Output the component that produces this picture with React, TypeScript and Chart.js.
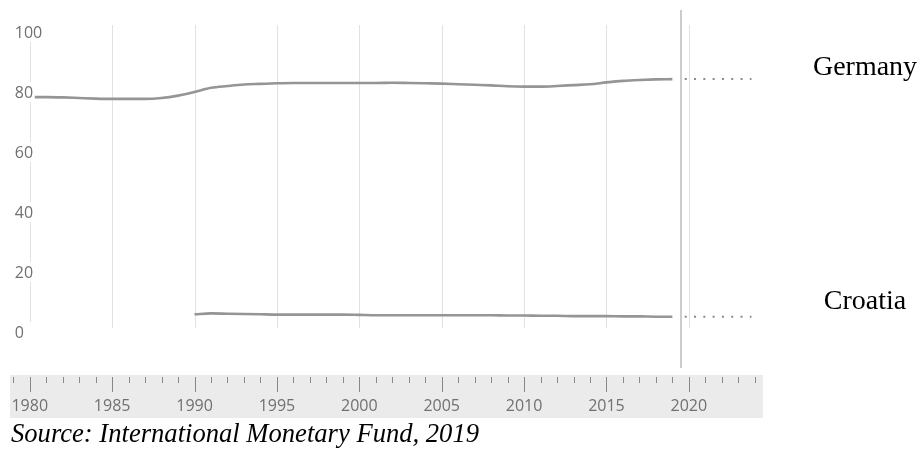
import React, { useEffect, useRef } from 'react';
import { Chart, registerables } from 'chart.js';

Chart.register(...registerables);

const YEARS_GERMANY = [
  1980, 1981, 1982, 1983, 1984, 1985, 1986, 1987, 1988, 1989,
  1990, 1991, 1992, 1993, 1994, 1995, 1996, 1997, 1998, 1999,
  2000, 2001, 2002, 2003, 2004, 2005, 2006, 2007, 2008, 2009,
  2010, 2011, 2012, 2013, 2014, 2015, 2016, 2017, 2018, 2019,
];
const GERMANY = [
  78.3, 78.3, 78.2, 78.0, 77.8, 77.7, 77.7, 77.7, 78.0, 78.8,
  80.0, 81.4, 82.0, 82.5, 82.7, 82.9, 83.0, 83.0, 83.0, 83.0,
  83.0, 83.0, 83.1, 83.0, 82.9, 82.8, 82.6, 82.4, 82.2, 81.9,
  81.8, 81.8, 82.0, 82.3, 82.6, 83.2, 83.7, 84.0, 84.2, 84.3,
];
const YEARS_CROATIA = [
  1990, 1991, 1992, 1993, 1994, 1995, 1996, 1997, 1998, 1999,
  2000, 2001, 2002, 2003, 2004, 2005, 2006, 2007, 2008, 2009,
  2010, 2011, 2012, 2013, 2014, 2015, 2016, 2017, 2018, 2019,
];
const CROATIA = [
  5.9, 6.2, 6.1, 6.0, 5.9, 5.8, 5.8, 5.8, 5.8, 5.8,
  5.7, 5.6, 5.6, 5.6, 5.6, 5.6, 5.6, 5.6, 5.6, 5.5,
  5.5, 5.4, 5.4, 5.3, 5.3, 5.3, 5.2, 5.2, 5.1, 5.1,
];
const Y_TICKS = [0, 20, 40, 60, 80, 100];
const X_MIN = 1978.8;
const X_MAX = 2024.5;
const Y_MIN = -14.333;
const Y_MAX = 102.333;
const LABEL_EVERY = 5;
const PROJECTION_YEARS = [2019.75, 2023.8];
const CURRENT_YEAR = 2019.5;
const SERIES_NAMES = ['Germany', 'Croatia'];
const SOURCE_TEXT = 'Source: International Monetary Fund, 2019';

const LINE_COLOR = '#959595';
const LABEL_COLOR = '#707070';

const decorPlugin = {
  id: 'decor',
  beforeDraw(chart: any) {
    const { ctx } = chart;
    const x = chart.scales.x;
    ctx.save();
    ctx.fillStyle = '#ebebeb';
    ctx.fillRect(x.left, x.top, x.right - x.left, x.bottom - x.top + 1);
    ctx.restore();
  },
  beforeDatasetsDraw(chart: any) {
    const { ctx, chartArea } = chart;
    const x = chart.scales.x;
    const y = chart.scales.y;
    ctx.save();
    // tick marks
    ctx.strokeStyle = '#888888';
    ctx.lineWidth = 1;
    for (let yr = Math.ceil(x.min); yr <= x.max; yr++) {
      const px = Math.round(x.getPixelForValue(yr)) + 0.5;
      const major = yr % LABEL_EVERY === 0;
      ctx.beginPath();
      ctx.moveTo(px, x.top + 2);
      ctx.lineTo(px, x.top + (major ? 17 : 8));
      ctx.stroke();
    }
    // vertical grid lines
    const gridBottom = y.getPixelForValue(0) - 4;
    ctx.strokeStyle = '#e1e1e1';
    for (let yr = Math.ceil(x.min / LABEL_EVERY) * LABEL_EVERY; yr <= x.max; yr += LABEL_EVERY) {
      const px = Math.round(x.getPixelForValue(yr)) + 0.5;
      ctx.beginPath();
      ctx.moveTo(px, chartArea.top);
      ctx.lineTo(px, gridBottom);
      ctx.stroke();
    }
    ctx.restore();
  },
  afterDatasetsDraw(chart: any) {
    const { ctx, chartArea } = chart;
    const x = chart.scales.x;
    const y = chart.scales.y;
    ctx.save();
    // y tick labels with white backdrop
    const x0 = x.getPixelForValue(1980);
    ctx.font = '16px "Open Sans"';
    ctx.textAlign = 'left';
    ctx.textBaseline = 'middle';
    for (const v of Y_TICKS) {
      const py = y.getPixelForValue(v);
      ctx.fillStyle = '#ffffff';
      ctx.fillRect(x0 - 18, py - 10, 23, 20);
      ctx.fillStyle = LABEL_COLOR;
      ctx.fillText(String(v), x0 - 15, py + 1);
    }
    // current year line
    const cx = Math.round(x.getPixelForValue(CURRENT_YEAR));
    ctx.strokeStyle = '#cccccc';
    ctx.lineWidth = 2;
    ctx.beginPath();
    ctx.moveTo(cx, chartArea.top - 15);
    ctx.lineTo(cx, x.top - 7);
    ctx.stroke();
    // series names
    ctx.fillStyle = '#000000';
    ctx.font = '28px "Liberation Serif"';
    ctx.textAlign = 'center';
    ctx.textBaseline = 'alphabetic';
    const lastG = GERMANY[GERMANY.length - 1];
    const lastC = CROATIA[CROATIA.length - 1];
    ctx.fillText(SERIES_NAMES[0], 865, y.getPixelForValue(lastG) - 4);
    ctx.fillText(SERIES_NAMES[1], 865, y.getPixelForValue(lastC) - 8);
    // source
    ctx.font = 'italic 26.6px "Liberation Serif"';
    ctx.textAlign = 'left';
    ctx.fillText(SOURCE_TEXT, 11, 442);
    ctx.restore();
  },
};

export default function App() {
  const ref = useRef<HTMLCanvasElement | null>(null);
  useEffect(() => {
    document.body.style.margin = '0';
    const canvas = ref.current;
    if (!canvas) return;
    const lastG = GERMANY[GERMANY.length - 1];
    const lastC = CROATIA[CROATIA.length - 1];
    const chart = new Chart(canvas, {
      type: 'line',
      data: {
        datasets: [
          {
            label: SERIES_NAMES[0],
            data: YEARS_GERMANY.map((yr, i) => ({ x: yr, y: GERMANY[i] })),
            borderColor: LINE_COLOR,
            borderWidth: 2.6,
            pointRadius: 0,
            cubicInterpolationMode: 'monotone',
          },
          {
            label: SERIES_NAMES[1],
            data: YEARS_CROATIA.map((yr, i) => ({ x: yr, y: CROATIA[i] })),
            borderColor: LINE_COLOR,
            borderWidth: 2.6,
            pointRadius: 0,
            cubicInterpolationMode: 'monotone',
          },
          {
            label: 'Germany projection',
            data: PROJECTION_YEARS.map((yr) => ({ x: yr, y: lastG })),
            borderColor: '#8a8a8a',
            borderWidth: 2,
            borderDash: [2, 7.3],
            pointRadius: 0,
          },
          {
            label: 'Croatia projection',
            data: PROJECTION_YEARS.map((yr) => ({ x: yr, y: lastC })),
            borderColor: '#8a8a8a',
            borderWidth: 2,
            borderDash: [2, 7.3],
            pointRadius: 0,
          },
        ],
      },
      options: {
        animation: false,
        responsive: false,
        layout: { padding: { left: 10, right: 160, top: 25, bottom: 32 } },
        plugins: {
          legend: { display: false },
          tooltip: { enabled: false },
        },
        scales: {
          x: {
            type: 'linear',
            min: X_MIN,
            max: X_MAX,
            grid: { display: false, drawTicks: false },
            border: { display: false },
            afterFit: (scale: any) => {
              scale.height = 42;
              scale.paddingLeft = 0;
              scale.paddingRight = 0;
            },
            ticks: {
              stepSize: 1,
              includeBounds: false,
              autoSkip: false,
              maxRotation: 0,
              padding: 22,
              color: LABEL_COLOR,
              font: { family: 'Open Sans', size: 16 },
              callback: (v: any) => (Number(v) % LABEL_EVERY === 0 ? String(v) : ''),
            },
          },
          y: {
            type: 'linear',
            display: false,
            min: Y_MIN,
            max: Y_MAX,
          },
        },
      },
      plugins: [decorPlugin],
    } as any);
    return () => chart.destroy();
  }, []);
  return (
    <div style={{ position: 'relative', width: 923, height: 449 }}>
      <canvas ref={ref} width={923} height={449} style={{ width: 923, height: 449, display: 'block' }} />
    </div>
  );
}
